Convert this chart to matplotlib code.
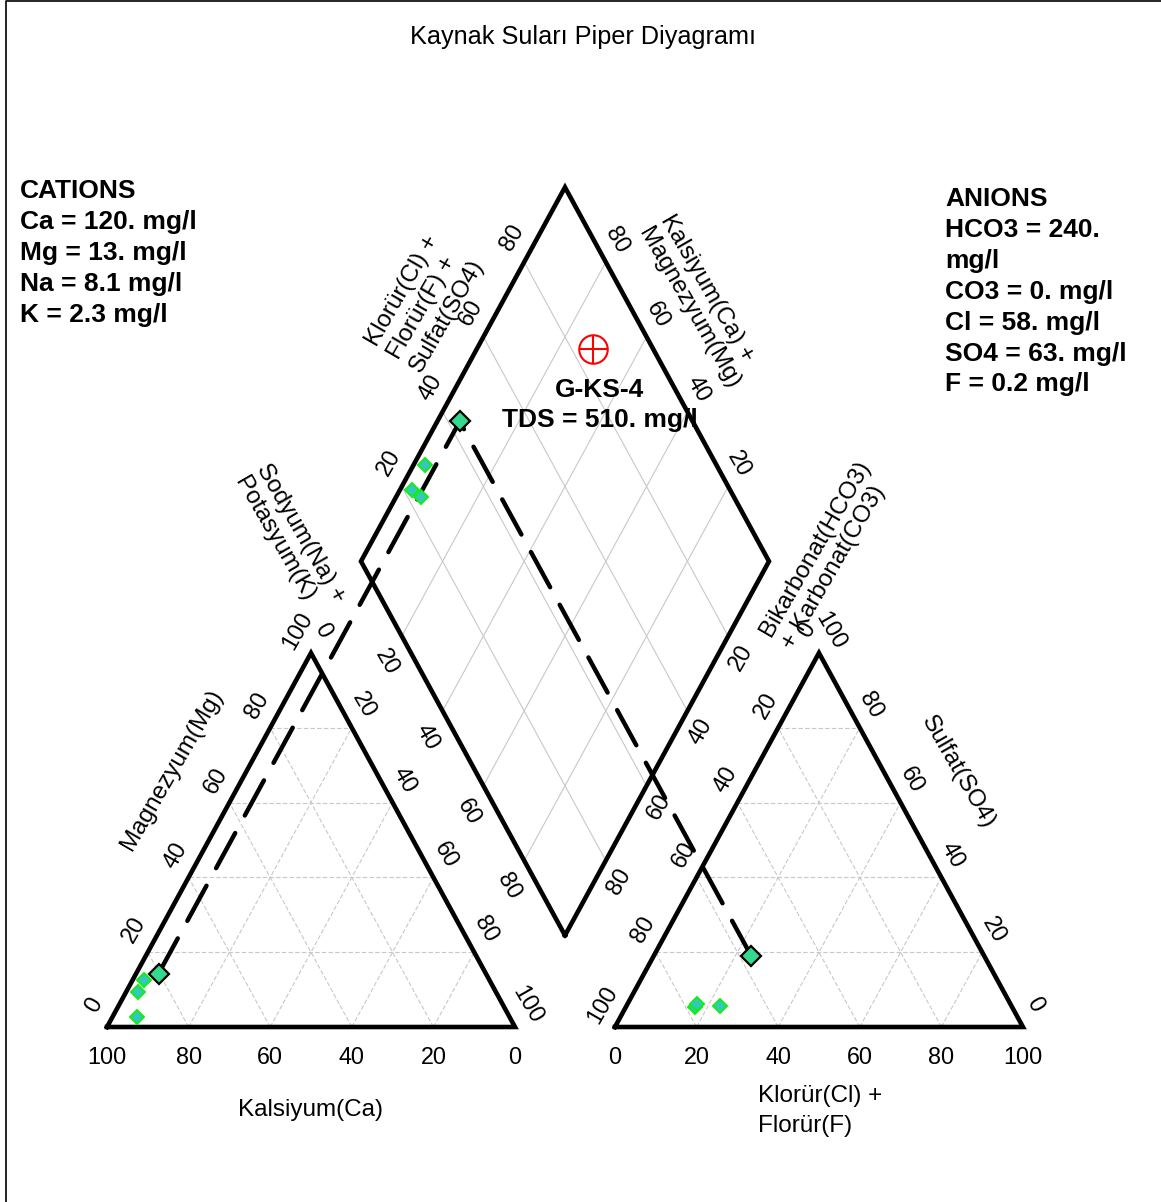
import numpy as np
import matplotlib
matplotlib.use('Agg')
import matplotlib.pyplot as plt
from matplotlib.lines import Line2D

plt.rcParams['font.family'] = ['Liberation Sans', 'DejaVu Sans']

title = 'Kaynak Suları Piper Diyagramı'
sample_name = 'G-KS-4'
tds_text = 'TDS = 510. mg/l'
cation_lines = ['CATIONS', 'Ca = 120. mg/l', 'Mg = 13. mg/l', 'Na = 8.1 mg/l', 'K = 2.3 mg/l']
anion_lines = ['ANIONS', 'HCO3 = 240.', 'mg/l', 'CO3 = 0. mg/l', 'Cl = 58. mg/l',
               'SO4 = 63. mg/l', 'F = 0.2 mg/l']

# main sample, meq %
main_ca, main_mg, main_nak = 80.2, 14.3, 5.5
main_hco3, main_clf, main_so4 = 57.1, 23.9, 19.0

# other samples, meq %
other_ca = [84.6, 87.6, 91.3]
other_mg = [12.6, 9.4, 2.7]
other_nak = [2.8, 3.0, 6.0]
other_hco3 = [71.5, 77.8, 76.8]
other_clf = [22.9, 16.9, 17.0]
other_so4 = [5.6, 5.3, 6.2]

tri_ticks = [0, 20, 40, 60, 80, 100]
dia_ticks = [20, 40, 60, 80]
grid_vals = [20, 40, 60, 80]

H = np.sqrt(3) / 2
GAP = 0.245
AX0 = 1 + GAP
BX, BY = 1 + GAP / 2, GAP * H


def cation_xy(nak, mg):
    nak = np.asarray(nak, float) / 100
    mg = np.asarray(mg, float) / 100
    return nak + mg / 2, mg * H


def anion_xy(clf, so4):
    clf = np.asarray(clf, float) / 100
    so4 = np.asarray(so4, float) / 100
    return AX0 + clf + so4 / 2, so4 * H


def diamond_xy(nak, hco3):
    camg = 1 - np.asarray(nak, float) / 100
    clso4 = 1 - np.asarray(hco3, float) / 100
    return BX + (clso4 - camg) / 2, BY + (clso4 + camg) * H


W, Hpx = 1161, 1202
fig = plt.figure(figsize=(W / 100, Hpx / 100), dpi=100)
ax = fig.add_axes([0, 0, 1, 1])
ax.set_xlim(-107 / 408, (W - 107) / 408)
ax.set_ylim((1027 - Hpx) / 431.9, 1027 / 431.9)
ax.axis('off')

# frame (left and top only visible)
fx, fy = 5.5 / W, 1 - 1.3 / Hpx
fig.add_artist(Line2D([fx, fx, 1.01], [-0.01, fy, fy], color='black', lw=1.2,
                      transform=fig.transFigure))

grid_kw = dict(color='#c8c8c8', lw=0.8, zorder=1)
dash_kw = dict(grid_kw, dashes=(4, 2))

# grid lines
for v in grid_vals:
    ax.plot(*cation_xy([0, 100 - v], [v, v]), **dash_kw)
    ax.plot(*cation_xy([v, v], [0, 100 - v]), **dash_kw)
    ax.plot(*cation_xy([100 - v, 0], [0, 100 - v]), **dash_kw)
    ax.plot(*anion_xy([0, 100 - v], [v, v]), **dash_kw)
    ax.plot(*anion_xy([v, v], [0, 100 - v]), **dash_kw)
    ax.plot(*anion_xy([100 - v, 0], [0, 100 - v]), **dash_kw)
    ax.plot(*diamond_xy([v, v], [0, 100]), **grid_kw)
    ax.plot(*diamond_xy([0, 100], [v, v]), **grid_kw)

# outlines
edge_kw = dict(color='black', lw=3.3, solid_joinstyle='miter', zorder=3)
ax.plot(*cation_xy([0, 100, 0, 0], [0, 0, 100, 0]), **edge_kw)
ax.plot(*anion_xy([0, 100, 0, 0], [0, 0, 100, 0]), **edge_kw)
ax.plot(*diamond_xy([100, 0, 0, 100, 100], [100, 100, 0, 0, 100]), **edge_kw)

# tick labels
tk = dict(fontsize=16.8, ha='center', va='center', rotation_mode='anchor',
          textcoords='offset points', zorder=4)


def tick_labels(values, xy_func, offset, rot):
    for v in values:
        x, y = xy_func(v)
        ax.annotate(str(v), (x, y), xytext=offset, rotation=rot, **tk)


tick_labels(tri_ticks, lambda v: cation_xy(100 - v, 0), (0, -21.6), 0)
tick_labels(tri_ticks, lambda v: cation_xy(0, v), (-9.8, 16.1), 60)
tick_labels(tri_ticks, lambda v: cation_xy(v, 100 - v), (8.9, 16.3), -60)
tick_labels(tri_ticks, lambda v: anion_xy(v, 0), (0, -21.6), 0)
tick_labels(tri_ticks, lambda v: anion_xy(0, 100 - v), (-8.9, 16.3), 60)
tick_labels(tri_ticks, lambda v: anion_xy(100 - v, v), (8.4, 16.1), -60)
tick_labels(dia_ticks, lambda v: diamond_xy(0, 100 - v), (-9.1, 17.5), 60)
tick_labels(dia_ticks, lambda v: diamond_xy(100 - v, 0), (8.0, 16.0), -60)
tick_labels(dia_ticks, lambda v: diamond_xy(v, 100), (-10.5, -18.7), -60)
tick_labels(dia_ticks, lambda v: diamond_xy(100, v), (9.1, -15.1), 60)

# axis titles (figure pixel positions)
ttl = dict(fontsize=17.5, ha='center', va='center', rotation_mode='anchor',
           multialignment='left', transform=fig.transFigure)


def ftext(px, py, s, **kw):
    fig.text(px / W, 1 - py / Hpx, s, **kw)


ftext(583, 37, title, fontsize=18.2, ha='center', va='center')
ftext(172, 770, 'Magnezyum(Mg)', rotation=60, **ttl)
ftext(290, 540, 'Sodyum(Na) +\nPotasyum(K)', rotation=-60, **ttl)
ftext(425, 303, 'Klorür(Cl) +\nFlorür(F) +\nSulfat(SO4)', rotation=60, **ttl)
ftext(700, 302, 'Kalsiyum(Ca) +\nMagnezyum(Mg)', rotation=-60, **ttl)
ftext(826, 555, 'Bikarbonat(HCO3)\n+ Karbonat(CO3)', rotation=60, **ttl)
ftext(958, 772, 'Sulfat(SO4)', rotation=-60, **ttl)
ftext(310, 1110, 'Kalsiyum(Ca)', fontsize=17.5, ha='center', va='center')
ftext(758, 1096, 'Klorür(Cl) +', fontsize=17.5, ha='left', va='center')
ftext(758, 1126, 'Florür(F)', fontsize=17.5, ha='left', va='center')

for i, s in enumerate(cation_lines):
    ftext(20, 191 + 31 * i, s, fontsize=19, fontweight='bold', ha='left', va='center')
for i, s in enumerate(anion_lines):
    ftext(945, 199 + 30.9 * i, s, fontsize=19, fontweight='bold', ha='left', va='center')

# projection lines for main sample
cx, cy = cation_xy(main_nak, main_mg)
axx, axy = anion_xy(main_clf, main_so4)
dx, dy = diamond_xy(main_nak, main_hco3)
proj_kw = dict(color='black', lw=3.2, dashes=(9, 4.5), dash_capstyle='round', zorder=5)
ax.plot([cx, dx], [cy, dy], **proj_kw)
ax.plot([axx, dx], [axy, dy], **proj_kw)

# other samples
mk_other = dict(ls='none', marker='D', ms=7.5, mfc='#36c6c0', mec='#11ee11', mew=1.4, zorder=6)
ax.plot(*cation_xy(other_nak, other_mg), **mk_other)
ax.plot(*anion_xy(other_clf, other_so4), **mk_other)
ax.plot(*diamond_xy(other_nak, other_hco3), **mk_other)

# main sample
mk_main = dict(ls='none', marker='D', ms=10, mfc='#33d98f', mec='black', mew=1.6, zorder=7)
ax.plot(cx, cy, **mk_main)
ax.plot(axx, axy, **mk_main)
ax.plot(dx, dy, **mk_main)

# TDS symbol with sample label
sym_x, sym_y = (593 - 107) / 408, (1027 - 349) / 431.9
ax.plot(sym_x, sym_y, ls='none', marker='o', ms=20.5, mfc='none', mec='red', mew=1.5, zorder=6)
ax.plot(sym_x, sym_y, ls='none', marker='+', ms=20.5, mec='red', mew=1.5, zorder=6)
ax.annotate(sample_name, (sym_x, sym_y), xytext=(5, -29.5), textcoords='offset points',
            fontsize=19, fontweight='bold', ha='center', va='center', zorder=8)
ax.annotate(tds_text, (sym_x, sym_y), xytext=(5, -51), textcoords='offset points',
            fontsize=19, fontweight='bold', ha='center', va='center', zorder=8)

fig.savefig('out.png', dpi=100)
